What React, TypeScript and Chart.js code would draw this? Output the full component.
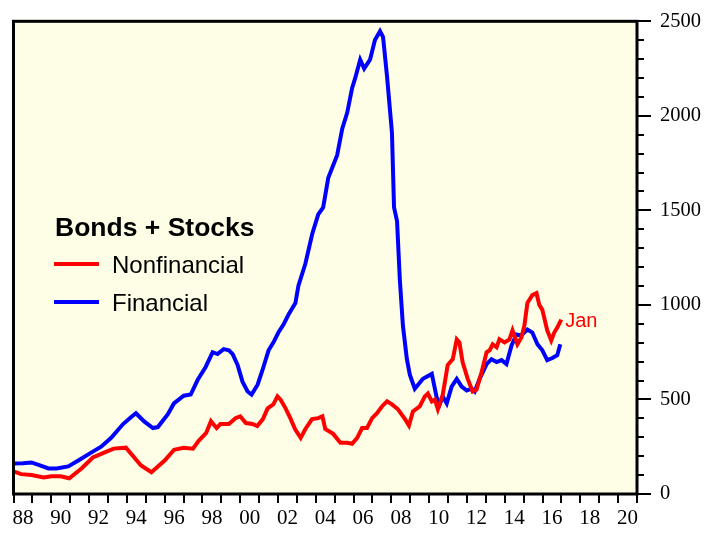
import React, { useEffect, useRef } from "react";
import { Chart, registerables } from "chart.js";

Chart.register(...registerables);

// ---- Data ----
const financialYears = [
  1988.0, 1988.5, 1988.95, 1989.4, 1989.85, 1990.27, 1990.9, 1991.43, 1992.11, 1992.64,
  1993.17, 1993.8, 1994.2, 1994.48, 1994.9, 1995.38, 1995.64, 1996.17, 1996.49, 1997.01,
  1997.38, 1997.75, 1998.17, 1998.54, 1998.8, 1999.12, 1999.4, 1999.6, 1999.86, 2000.12,
  2000.39, 2000.6, 2000.92, 2001.18, 2001.5, 2001.76, 2002.02, 2002.29, 2002.55, 2002.92,
  2003.08, 2003.45, 2003.81, 2004.13, 2004.39, 2004.66, 2005.13, 2005.4, 2005.66, 2005.92,
  2006.08, 2006.35, 2006.56, 2006.87, 2007.13, 2007.4, 2007.56, 2007.77, 2008.03, 2008.14,
  2008.3, 2008.45, 2008.61, 2008.82, 2008.98, 2009.24, 2009.67, 2010.14, 2010.4, 2010.56,
  2010.72, 2010.93, 2011.19, 2011.46, 2011.72, 2011.99, 2012.25, 2012.41, 2012.67, 2013.04,
  2013.3, 2013.57, 2013.83, 2014.09, 2014.36, 2014.62, 2014.88, 2015.2, 2015.46, 2015.73,
  2015.99, 2016.25, 2016.52, 2016.78, 2016.94,
];
const financialValues = [
  161, 163, 167, 152, 135, 135, 146, 177, 219, 250,
  297, 370, 405, 427, 385, 349, 354, 422, 479, 520,
  526, 604, 672, 750, 740, 766, 760, 740, 682, 594,
  542, 526, 578, 656, 760, 802, 854, 896, 948, 1010,
  1102, 1219, 1375, 1479, 1516, 1672, 1792, 1932, 2016, 2146,
  2198, 2297, 2250, 2297, 2401, 2448, 2417, 2208, 1911, 1516,
  1443, 1130, 891, 713, 630, 557, 609, 635, 510, 474,
  516, 479, 568, 609, 568, 547, 557, 542, 609, 687,
  713, 698, 708, 687, 786, 844, 839, 870, 854, 792,
  760, 708, 719, 734, 792,
];

const nonfinancialYears = [
  1988.0, 1988.4, 1988.95, 1989.6, 1990.0, 1990.5, 1990.95, 1991.6, 1992.2, 1992.8,
  1993.3, 1993.95, 1994.75, 1995.3, 1996.0, 1996.5, 1997.0, 1997.5, 1997.8, 1998.2,
  1998.45, 1998.75, 1998.95, 1999.4, 1999.75, 2000.0, 2000.3, 2000.65, 2000.9, 2001.2,
  2001.45, 2001.75, 2001.97, 2002.13, 2002.4, 2002.65, 2002.9, 2003.2, 2003.45, 2003.8,
  2004.13, 2004.35, 2004.5, 2004.92, 2005.3, 2005.66, 2005.92, 2006.19, 2006.45, 2006.71,
  2006.98, 2007.24, 2007.5, 2007.77, 2008.03, 2008.35, 2008.72, 2008.93, 2009.14, 2009.5,
  2009.77, 2009.93, 2010.14, 2010.3, 2010.46, 2010.72, 2010.98, 2011.25, 2011.46, 2011.6,
  2011.77, 2012.04, 2012.3, 2012.51, 2012.78, 2013.04, 2013.2, 2013.36, 2013.57, 2013.72,
  2013.99, 2014.25, 2014.41, 2014.67, 2014.88, 2015.04, 2015.2, 2015.46, 2015.68, 2015.83,
  2015.99, 2016.25, 2016.46, 2016.62, 2016.78, 2016.99,
];
const nonfinancialValues = [
  120, 105, 100, 88, 94, 94, 83, 135, 193, 219,
  240, 245, 151, 115, 177, 234, 245, 240, 281, 323,
  385, 349, 370, 370, 401, 411, 375, 370, 359, 396,
  453, 474, 516, 500, 453, 401, 344, 297, 344, 396,
  401, 411, 344, 318, 271, 271, 266, 297, 349, 349,
  401, 427, 463, 490, 474, 448, 396, 362, 437, 463,
  516, 531, 490, 500, 448, 526, 682, 713, 818, 802,
  698, 609, 542, 552, 646, 750, 760, 792, 776, 818,
  802, 818, 865, 792, 828, 891, 1010, 1052, 1062, 1000,
  974, 865, 812, 854, 880, 922,
];

const xTickYears = Array.from({ length: 2021 - 1988 + 1 }, (_, i) => 1988 + i);
const yMajorTicks = [0, 500, 1000, 1500, 2000, 2500];
const yMinorTicks = Array.from({ length: 26 }, (_, i) => i * 100);

const legendTitle = "Bonds + Stocks";
const seriesNames = ["Nonfinancial", "Financial"];
const seriesColors = ["#ff0000", "#0000ff"];
const endLabel = "Jan";

const toPoints = (xs: number[], ys: number[]) => xs.map((x, i) => ({ x, y: ys[i] }));

const decorPlugin = {
  id: "decor",
  beforeDraw(chart: any) {
    const { ctx, chartArea } = chart;
    ctx.save();
    ctx.fillStyle = "#ffffff";
    ctx.fillRect(0, 0, chart.width, chart.height);
    ctx.fillStyle = "#fefee6";
    ctx.fillRect(chartArea.left, chartArea.top, chartArea.right - chartArea.left, chartArea.bottom - chartArea.top);
    ctx.restore();
  },
  afterDraw(chart: any) {
    const { ctx, chartArea } = chart;
    const yScale = chart.scales.y;
    const xScale = chart.scales.x;
    ctx.save();
    // minor y ticks
    ctx.strokeStyle = "#000";
    ctx.lineWidth = 2;
    yMinorTicks.forEach((v) => {
      if (v % 500 === 0) return;
      const py = Math.round(yScale.getPixelForValue(v));
      ctx.beginPath();
      ctx.moveTo(chartArea.right, py);
      ctx.lineTo(chartArea.right + 7, py);
      ctx.stroke();
    });
    // frame
    ctx.lineWidth = 3;
    ctx.strokeRect(chartArea.left, chartArea.top, chartArea.right - chartArea.left, chartArea.bottom - chartArea.top);

    // legend
    ctx.fillStyle = "#000";
    ctx.textBaseline = "alphabetic";
    ctx.textAlign = "left";
    ctx.font = 'bold 26.5px "Liberation Sans", Arial, sans-serif';
    ctx.fillText(legendTitle, 55, 236);
    ctx.font = '24px "Liberation Sans", Arial, sans-serif';
    const rows = [264, 302];
    seriesNames.forEach((name, i) => {
      ctx.strokeStyle = seriesColors[i];
      ctx.lineWidth = 4;
      ctx.beginPath();
      ctx.moveTo(54, rows[i]);
      ctx.lineTo(99, rows[i]);
      ctx.stroke();
      ctx.fillStyle = "#000";
      ctx.fillText(name, 112, rows[i] + 9);
    });

    // end label
    const lastX = nonfinancialYears[nonfinancialYears.length - 1];
    const lastY = nonfinancialValues[nonfinancialValues.length - 1];
    ctx.fillStyle = seriesColors[0];
    ctx.font = '20px "Liberation Sans", Arial, sans-serif';
    ctx.fillText(endLabel, xScale.getPixelForValue(lastX) + 4, yScale.getPixelForValue(lastY) + 7);
    ctx.restore();
  },
};

export default function App() {
  const ref = useRef<HTMLCanvasElement | null>(null);
  useEffect(() => {
    if (!ref.current) return;
    const chart = new Chart(ref.current, {
      type: "line",
      data: {
        datasets: [
          {
            label: seriesNames[0],
            data: toPoints(nonfinancialYears, nonfinancialValues),
            borderColor: seriesColors[0],
            borderWidth: 4,
            pointRadius: 0,
            tension: 0,
            order: 0,
          },
          {
            label: seriesNames[1],
            data: toPoints(financialYears, financialValues),
            borderColor: seriesColors[1],
            borderWidth: 4,
            pointRadius: 0,
            tension: 0,
            order: 1,
          },
        ],
      },
      options: {
        animation: false,
        responsive: false,
        maintainAspectRatio: false,
        layout: { padding: { left: 12, top: 14, right: 0, bottom: 0 } },
        plugins: { legend: { display: false }, tooltip: { enabled: false } },
        scales: {
          x: {
            type: "linear",
            min: 1988,
            max: 2021,
            afterBuildTicks: (axis: any) => {
              axis.ticks = xTickYears.map((v) => ({ value: v }));
            },
            afterFit: (s: any) => {
              s.height = 41;
            },
            grid: { drawOnChartArea: false, drawTicks: true, tickLength: 9, color: "#000", lineWidth: 2 },
            border: { display: false },
            ticks: {
              autoSkip: false,
              maxRotation: 0,
              labelOffset: 9.5,
              padding: 3,
              color: "#000",
              font: { family: '"Liberation Serif", "Times New Roman", serif', size: 21 },
              callback: (v: any) => (v % 2 === 0 && v < 2021 ? String(v % 100).padStart(2, "0") : ""),
            },
          },
          y: {
            type: "linear",
            position: "right",
            min: 0,
            max: 2500,
            afterBuildTicks: (axis: any) => {
              axis.ticks = yMajorTicks.map((v) => ({ value: v }));
            },
            afterFit: (s: any) => {
              s.width = 80;
            },
            grid: { drawOnChartArea: false, drawTicks: true, tickLength: 14, color: "#000", lineWidth: 2 },
            border: { display: false },
            ticks: {
              padding: 9,
              color: "#000",
              font: { family: '"Liberation Serif", "Times New Roman", serif', size: 20.5 },
              callback: (v: any) => String(v),
            },
          },
        },
      },
      plugins: [decorPlugin],
    });
    return () => chart.destroy();
  }, []);
  return (
    <div style={{ position: "fixed", left: 0, top: 0, width: 717, height: 535, background: "#fff" }}>
      <canvas ref={ref} width={717} height={535} />
    </div>
  );
}
